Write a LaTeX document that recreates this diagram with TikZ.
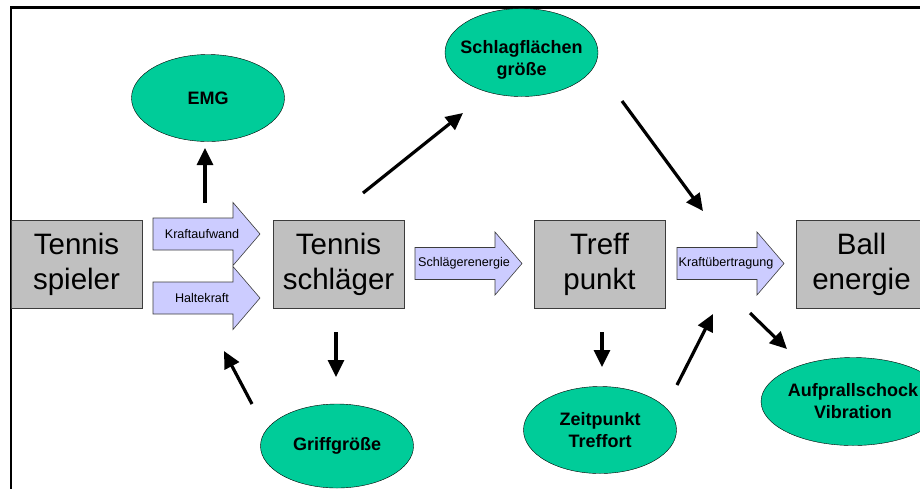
\documentclass[tikz,border=0pt]{standalone}
\usepackage{fontspec}
\setmainfont{Liberation Sans}
\usepackage{tikz}
\usetikzlibrary{arrows.meta}
\usetikzlibrary{shapes.geometric}

\definecolor{boxgray}{RGB}{192,192,192}
\definecolor{lineGray}{RGB}{60,60,60}
\definecolor{arrowblue}{RGB}{204,204,255}
\definecolor{ovalgreen}{RGB}{0,204,153}

\begin{document}
\begin{tikzpicture}[x=1pt, y=-1pt]
		\tikzset{station/.style={shape = rectangle, draw = lineGray, fill = boxgray, minimum width = 131pt, minimum height = 88pt, inner sep = 0pt, align = center, font = \fontsize{29.5}{35}\selectfont}}
		\tikzset{factor/.style={shape = ellipse, draw, fill = ovalgreen, minimum width = 153pt, minimum height = 87pt, inner sep = 0pt, align = center, font = \fontsize{18}{22}\selectfont\bfseries}}
		\tikzset{flow/.style={draw = lineGray, fill = arrowblue, line width = 0.6pt}}
		\tikzset{flowtext/.style={inner sep = 0pt, font = \fontsize{12.6}{15}\selectfont}}
		\tikzset{edge/.style={-{Triangle[length = 17pt, width = 16pt]}, line width = 3.2pt}}
		\useasboundingbox (0, 0) rectangle (920, 488);
		\clip (0, 0) rectangle (920, 488);
		%frame
		\draw[line width = 2.5pt] (11, 492) |- (925, 7.5);
		%boxes
		\node[station] (spieler) at (76.5, 264) {Tennis\\spieler};
		\node[station] (schlaeger) at (338.5, 264) {Tennis\\schläger};
		\node[station] (treff) at (599.5, 264) {Treff\\punkt};
		\node[station] (ball) at (861.5, 264) {Ball\\energie};
		%block arrows
		\foreach \name/\x/\y/\txt in {aufwand/153/234/Kraftaufwand, halte/153/298/Haltekraft, energie/415/263.5/Schlägerenergie, uebertrag/677/263.5/Kraftübertragung}
		{
			\draw[flow] (\x, \y-16) -- (\x+80, \y-16) -- (\x+80, \y-31.5) -- (\x+107, \y) -- (\x+80, \y+31.5) -- (\x+80, \y+16) -- (\x, \y+16) -- cycle;
			\node[flowtext] (\name) at (\x+49, \y) {\txt};
		}
		%ovals
		\node[factor] (emg) at (208, 98) {EMG};
		\node[factor, minimum height = 88pt] (flaeche) at (521.5, 52.5) {};
		\node[align = center, inner sep = 0pt, font = \fontsize{18}{22}\selectfont\bfseries] (flaechetext) at (521.5, 60) {Schlagflächen\\größe};
		\node[factor, minimum height = 84pt] (griff) at (337, 446) {Griffgröße};
		\node[factor] (zeit) at (600, 430) {Zeitpunkt\\Treffort};
		\node[factor, minimum height = 88pt] (aufprall) at (853, 401.5) {Aufprallschock\\Vibration};
		%arrow ends
		\coordinate (emgfrom) at (205, 203);
		\coordinate (emgto) at (205, 148);
		\coordinate (flaechefrom) at (363, 193);
		\coordinate (flaecheto) at (463, 113);
		\coordinate (treffpoint) at (703, 211);
		\coordinate (flaecheout) at (622, 101);
		\coordinate (griffout) at (252, 404);
		\coordinate (griffto) at (224, 351);
		\coordinate (schlaegerdown) at (336, 332);
		\coordinate (griffin) at (336, 377);
		\coordinate (treffdown) at (602, 332);
		\coordinate (zeitin) at (602, 367);
		\coordinate (zeitout) at (677, 385);
		\coordinate (uebertragin) at (713, 314);
		\coordinate (uebertragout) at (750, 313);
		\coordinate (aufprallin) at (787, 349);
		%edges
		\draw[edge] (emgfrom) -- (emgto);
		\draw[edge] (flaechefrom) -- (flaecheto);
		\draw[edge] (flaecheout) -- (treffpoint);
		\draw[edge] (griffout) -- (griffto);
		\draw[edge] (schlaegerdown) -- (griffin);
		\draw[edge] (treffdown) -- (zeitin);
		\draw[edge] (zeitout) -- (uebertragin);
		\draw[edge] (uebertragout) -- (aufprallin);
		\end{tikzpicture}
\end{document}
